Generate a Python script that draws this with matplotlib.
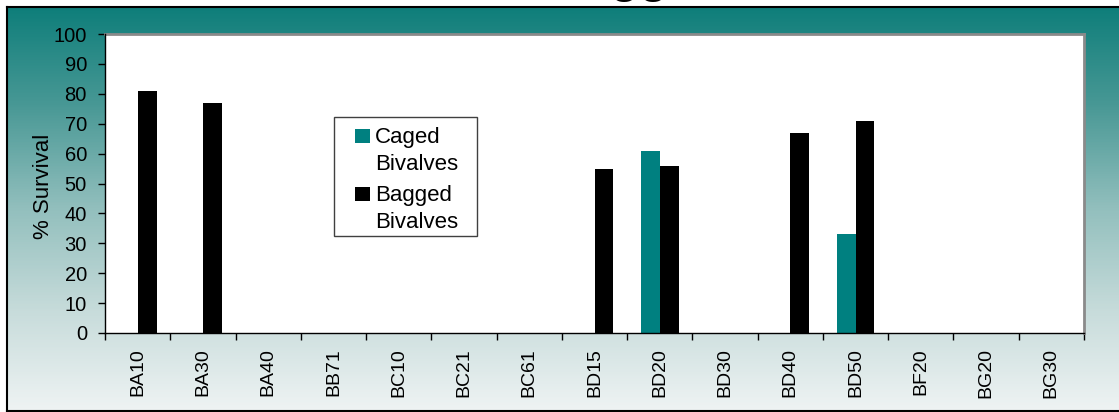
import numpy as np
import matplotlib
matplotlib.use("Agg")
import matplotlib.pyplot as plt
from matplotlib.patches import Rectangle
from matplotlib.colors import LinearSegmentedColormap

plt.rcParams['font.family'] = ['Liberation Sans', 'DejaVu Sans']

# Sites and survival percentages
sites = ["BA10", "BA30", "BA40", "BB71", "BC10", "BC21", "BC61", "BD15",
         "BD20", "BD30", "BD40", "BD50", "BF20", "BG20", "BG30"]
caged = [0, 0, 0, 0, 0, 0, 0, 0, 61, 0, 0, 33, 0, 0, 0]
bagged = [81, 77, 0, 0, 0, 0, 0, 55, 56, 0, 67, 71, 0, 0, 0]
series_labels = ["Caged\nBivalves", "Bagged\nBivalves"]
y_ticks = list(range(0, 101, 10))

TEAL = "#008080"
W, H = 1119, 412

fig = plt.figure(figsize=(W / 100, H / 100), dpi=100)

# Chart-area background: teal fading to near white, in pixel coordinates
bg = fig.add_axes([0, 0, 1, 1], zorder=0)
bg.axis("off")
cmap = LinearSegmentedColormap.from_list(
    "fade", [(0.0, "#0e7e7a"), (0.25, "#4a9996"), (0.5, "#92bfbd"),
             (0.75, "#c6dbda"), (1.0, "#eef3f3")])
grad = np.repeat(np.linspace(0, 1, 410).reshape(-1, 1), 4, axis=1)
bg.imshow(grad, cmap=cmap, aspect="auto", origin="upper",
          extent=(6.5, W + 2, 410, 6.5), interpolation="nearest", zorder=0)
bg.set_xlim(0, W)
bg.set_ylim(H, 0)
bg.plot([6.5, 6.5], [6.5, 410.5], color="black", lw=1.5, zorder=2)
bg.plot([6.5, W], [6.5, 6.5], color="black", lw=1.5, zorder=2)
bg.plot([6.5, W], [410.5, 410.5], color="black", lw=1.5, zorder=2)

# Title sits above the frame; only its descenders fall inside the canvas
fig.text(146 / W, 1 + 8.5 / H, "Bivalve Survival - Bagged", ha="left",
         va="baseline", fontsize=34, fontweight="bold", zorder=10)

# Plot area
x0, x1, ytop, ybot = 105, 1084, 34, 333
ax = fig.add_axes([x0 / W, (H - ybot) / H, (x1 - x0) / W, (ybot - ytop) / H],
                  zorder=1)
ax.set_facecolor("white")

x = np.arange(len(sites))
bw = 0.29
ax.bar(x - bw / 2, caged, width=bw, color=TEAL, zorder=3)
ax.bar(x + bw / 2, bagged, width=bw, color="black", zorder=3)

ax.set_xlim(-0.5, len(sites) - 0.5)
ax.set_ylim(0, 100)
ax.set_yticks(y_ticks)
ax.set_xticks(x)
ax.set_xticklabels(sites, rotation=90, fontsize=14)
ax.set_xticks(np.arange(-0.5, len(sites), 1), minor=True)
ax.tick_params(axis="x", which="major", length=0, pad=11)
ax.tick_params(axis="x", which="minor", length=5, width=1, direction="out")
ax.tick_params(axis="y", length=5, width=1, direction="out", labelsize=14.5, pad=8)
ax.text((44 - x0) / (x1 - x0), 0.49, "% Survival", transform=ax.transAxes,
        rotation=90, ha="center", va="center", fontsize=16)

for s in ("left", "bottom"):
    ax.spines[s].set_color("black")
    ax.spines[s].set_linewidth(1)
    ax.spines[s].set_zorder(5)
for s in ("top", "right"):
    ax.spines[s].set_color("#8a8a8a")
    ax.spines[s].set_linewidth(2)

# Legend drawn in pixel coordinates on an overlay
ov = fig.add_axes([0, 0, 1, 1], zorder=2)
ov.set_xlim(0, W)
ov.set_ylim(H, 0)
ov.axis("off")
ov.add_patch(Rectangle((334, 117), 143, 119, facecolor="white",
                       edgecolor="#404040", lw=1))
colors = [TEAL, "black"]
for i, (lab, col) in enumerate(zip(series_labels, colors)):
    base = 143 + i * 58
    ov.add_patch(Rectangle((355, base - 14.5), 14.5, 14.5, facecolor=col,
                           edgecolor="none"))
    for j, line in enumerate(lab.split("\n")):
        ov.text(375, base + j * 26.5, line, ha="left", va="baseline",
                fontsize=16)

fig.savefig("out.png", dpi=100)
